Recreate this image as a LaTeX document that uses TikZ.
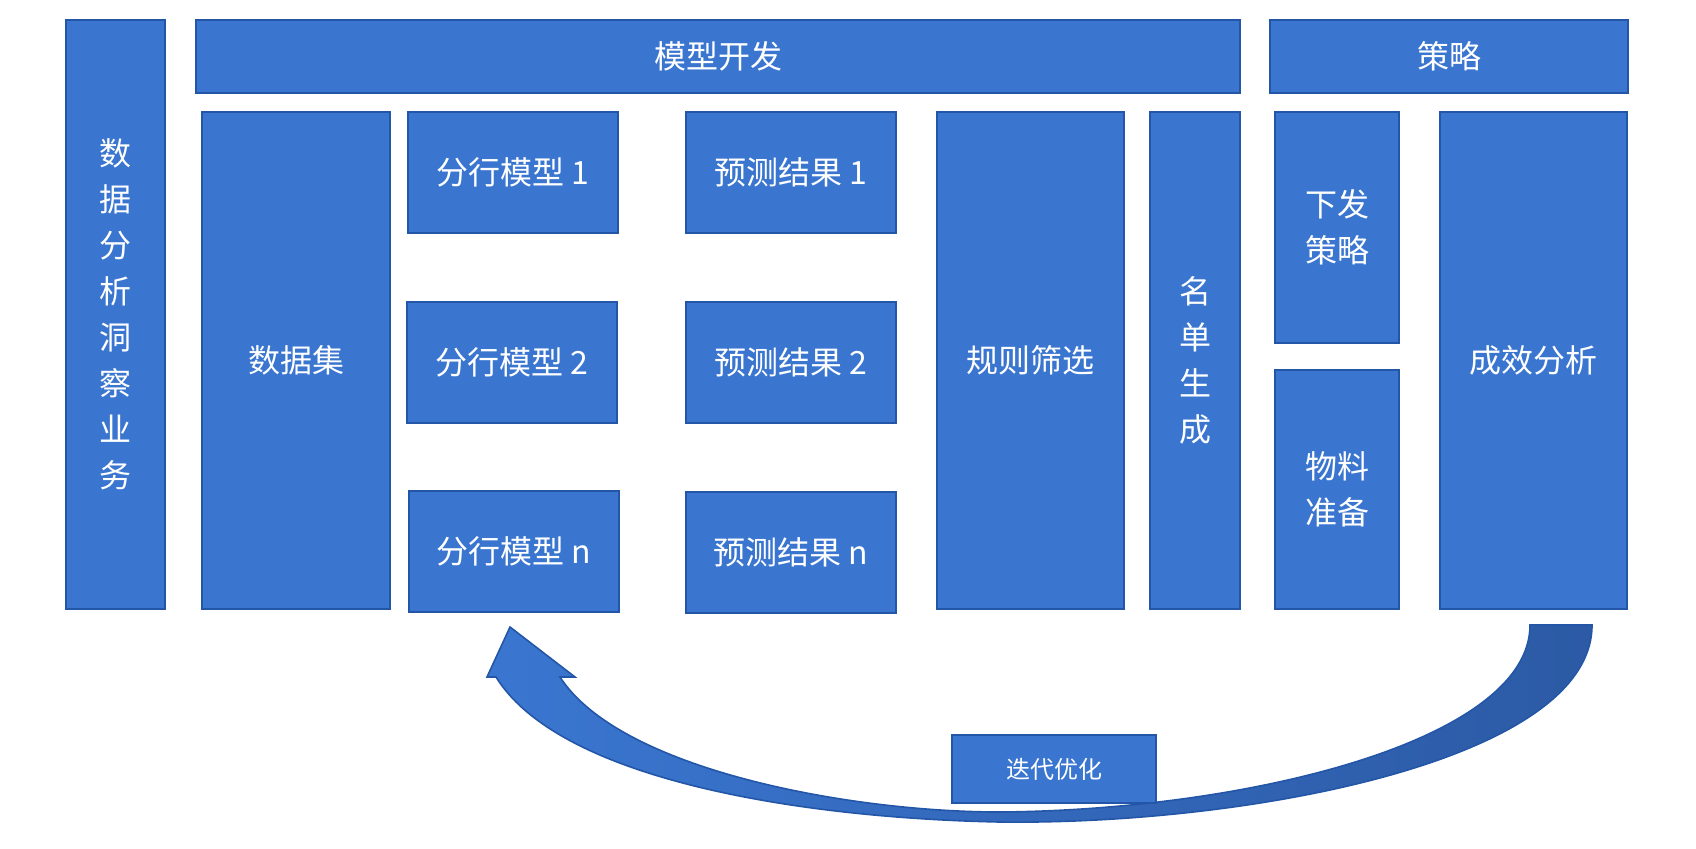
\documentclass[tikz,border=0pt]{standalone}
\usepackage{fontspec}
\setmainfont{Noto Sans CJK SC}
\begin{document}
\begin{tikzpicture}[x=0.5pt,y=-0.5pt,
  box/.style={draw=bordc,fill=boxc,line width=1.2pt,text=white,font=\fontsize{16}{23}\selectfont,align=center,inner sep=0pt},
]
\definecolor{boxc}{HTML}{3A76D0}
\definecolor{bordc}{HTML}{2456A8}
\definecolor{darkc}{HTML}{2C5AA5}
\useasboundingbox (0,0) rectangle (1696,848);
\newcommand{\bx}[6]{\node[box,minimum width=#4*0.5pt-#2*0.5pt,minimum height=#5*0.5pt-#3*0.5pt] (#1) at ({(#2+#4)/2},{(#3+#5)/2}) {#6};}
\bx{dafx}{66}{20}{165}{609}{数\\据\\分\\析\\洞\\察\\业\\务}
\bx{mxkf}{196}{20}{1240}{93}{模型开发}
\bx{cl}{1270}{20}{1628}{93}{策略}
\bx{sjj}{202}{112}{390}{609}{数据集}
\bx{m1}{408}{112}{618}{233}{分行模型 1}
\bx{m2}{407}{302}{617}{423}{分行模型 2}
\bx{mn}{409}{491}{619}{612}{分行模型 n}
\bx{r1}{686}{112}{896}{233}{预测结果 1}
\bx{r2}{686}{302}{896}{423}{预测结果 2}
\bx{rn}{686}{492}{896}{613}{预测结果 n}
\bx{gz}{937}{112}{1124}{609}{规则筛选}
\bx{md}{1150}{112}{1240}{609}{名\\单\\生\\成}
\bx{xf}{1275}{112}{1399}{343}{下发\\策略}
\bx{wl}{1275}{370}{1399}{609}{物料\\准备}
\bx{cx}{1440}{112}{1627}{609}{成效分析}
\path[left color=boxc,right color=darkc,draw=bordc,line width=0.8pt]
 (1592,625) .. controls (1592,760) and (1250,825) .. (1000,822)
 .. controls (800,818) and (560,780) .. (496,677) -- (487,677) -- (510,627) -- (575,677) -- (560,677)
 .. controls (620,770) and (850,812) .. (1000,812)
 .. controls (1250,810) and (1530,740) .. (1530,625) -- cycle;
\bx{dd}{952}{735}{1156}{803}{\fontsize{12}{14}\selectfont 迭代优化}
\end{tikzpicture}
\end{document}
